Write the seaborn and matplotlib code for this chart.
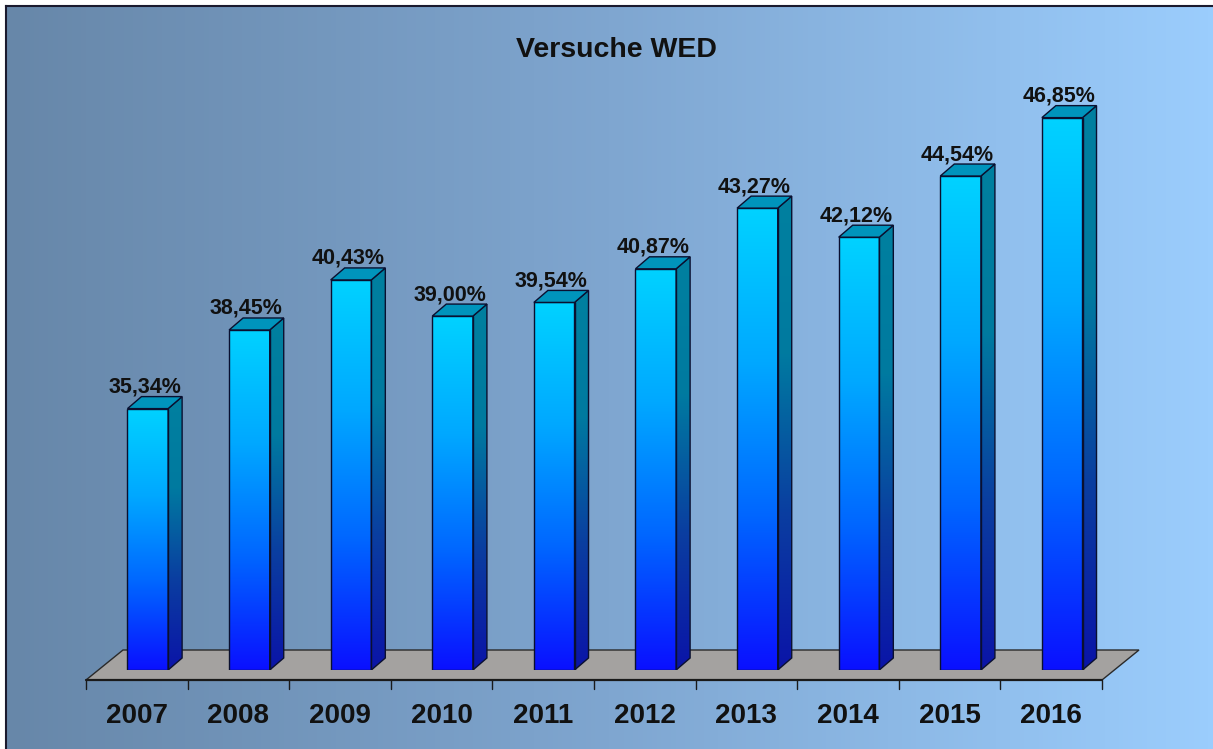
import numpy as np
import matplotlib
matplotlib.use("Agg")
import matplotlib.pyplot as plt
from matplotlib.colors import LinearSegmentedColormap
from matplotlib.patches import Polygon, Rectangle
import seaborn as sns

# ---- data ----
years = ["2007", "2008", "2009", "2010", "2011", "2012", "2013", "2014", "2015", "2016"]
values = [35.34, 38.45, 40.43, 39.00, 39.54, 40.87, 43.27, 42.12, 44.54, 46.85]
title = "Versuche WED"

sns.set_theme(style="white")
plt.rcParams["font.family"] = ["Liberation Sans", "DejaVu Sans"]

W, H = 1213, 749
fig = plt.figure(figsize=(W / 100, H / 100), dpi=100)
fig.patch.set_facecolor("white")

# background gradient panel with dark border
bg = fig.add_axes([6 / W, 0, 1 - 6 / W, 1 - 6 / H])
grad = np.linspace(0, 1, 256).reshape(1, -1)
bg_cmap = LinearSegmentedColormap.from_list("bg", ["#6787a9", "#7fa6d0", "#9bcdfd"])
bg.imshow(grad, aspect="auto", cmap=bg_cmap, extent=[0, 1, 0, 1])
bg.set_xlim(0, 1); bg.set_ylim(0, 1)
bg.set_xticks([]); bg.set_yticks([])
for s in ["left", "top"]:
    bg.spines[s].set_visible(True)
    bg.spines[s].set_color("#1a1a2e")
    bg.spines[s].set_linewidth(1.5)
for s in ["right", "bottom"]:
    bg.spines[s].set_visible(False)

# main axes in the bar-front plane
base = 25.0
px_top, px_bot, px_left, px_right = 60, 670, 97, 1113
ppu_y = 25.28
ymax = base + (px_bot - px_top) / ppu_y
ax = fig.add_axes([px_left / W, (H - px_bot) / H, (px_right - px_left) / W, (px_bot - px_top) / H])
ax.set_facecolor("none")

sns.barplot(x=years, y=values, ax=ax, width=0.4, color="#0066ff", saturation=1,
            edgecolor="none", linewidth=0)
n = len(years)
ax.set_xlim(-0.5, n - 0.5)
ax.set_ylim(base, ymax)
ax.axis("off")

ppu_x = (px_right - px_left) / n
DX, DY = 14 / ppu_x, 12 / ppu_y         # bar depth
FDX = 37 / ppu_x                          # floor depth
f_front = base - 10 / ppu_y
f_back = base + 20 / ppu_y
f_left = -0.5 - 11 / ppu_x
f_right = n - 0.5 - 11 / ppu_x

# floor
floor = Polygon([(f_left, f_front), (f_right, f_front), (f_right + FDX, f_back), (f_left + FDX, f_back)],
                closed=True, facecolor="#a4a2a0", edgecolor="#2a2a2a", linewidth=1.0,
                clip_on=False, zorder=1)
ax.add_patch(floor)
ax.plot([f_left, f_right], [f_front, f_front], color="#1a1a1a", lw=1.6, clip_on=False, zorder=2)
for i in range(n + 1):
    xb = f_left + i * (f_right - f_left) / n
    ax.plot([xb, xb], [f_front, f_front - 9 / ppu_y], color="#1a1a1a", lw=1.0, clip_on=False, zorder=2)
    if i < n:
        xc = xb + (f_right - f_left) / n / 2
        ax.text(xc, f_front - 36 / ppu_y, years[i], ha="center", va="center",
                fontsize=20, fontweight="bold", color="#111111", clip_on=False)

front_cmap = LinearSegmentedColormap.from_list("front", ["#0a10ff", "#0066ff", "#00a8ff", "#00d2ff"])
side_cmap = LinearSegmentedColormap.from_list("side", ["#0a14a8", "#0a3ea0", "#007aa0", "#00809f"])
vgrad = np.linspace(0, 1, 256).reshape(-1, 1)

for p, v in zip(ax.patches, values):
    x0 = p.get_x()
    w = p.get_width()
    p.set_y(base)
    p.set_height(v - base)
    p.set_facecolor("none")
    p.set_zorder(3)
    # front gradient
    im = ax.imshow(vgrad, cmap=front_cmap, aspect="auto", origin="lower",
                   extent=[x0, x0 + w, base, v], zorder=3)
    im.set_clip_path(p)
    ax.add_patch(Rectangle((x0, base), w, v - base, facecolor="none",
                           edgecolor="#0a1030", linewidth=1.0, zorder=5))
    # side face
    side = Polygon([(x0 + w, base), (x0 + w + DX, base + DY), (x0 + w + DX, v + DY), (x0 + w, v)],
                   closed=True, facecolor="none", edgecolor="#0a1030", linewidth=1.0, zorder=5)
    ax.add_patch(side)
    ims = ax.imshow(vgrad, cmap=side_cmap, aspect="auto", origin="lower",
                    extent=[x0 + w, x0 + w + DX, base, v + DY], zorder=4)
    clip_side = Polygon(side.get_xy(), closed=True, transform=ax.transData)
    ims.set_clip_path(clip_side)
    # top face
    top = Polygon([(x0, v), (x0 + w, v), (x0 + w + DX, v + DY), (x0 + DX, v + DY)],
                  closed=True, facecolor="#0094bc", edgecolor="#0a1030", linewidth=1.0, zorder=5)
    ax.add_patch(top)
    # value label
    label = f"{v:.2f}".replace(".", ",") + "%"
    ax.text(x0 + w / 2 - 3 / ppu_x, v + DY - 1 / ppu_y, label, ha="center", va="bottom",
            fontsize=15.5, fontweight="bold", color="#111111", zorder=6, clip_on=False)

fig.text((616) / W, 1 - 50 / H, title, ha="center", va="center",
         fontsize=20.5, fontweight="bold", color="#111111")

fig.savefig("out.png", dpi=100)
